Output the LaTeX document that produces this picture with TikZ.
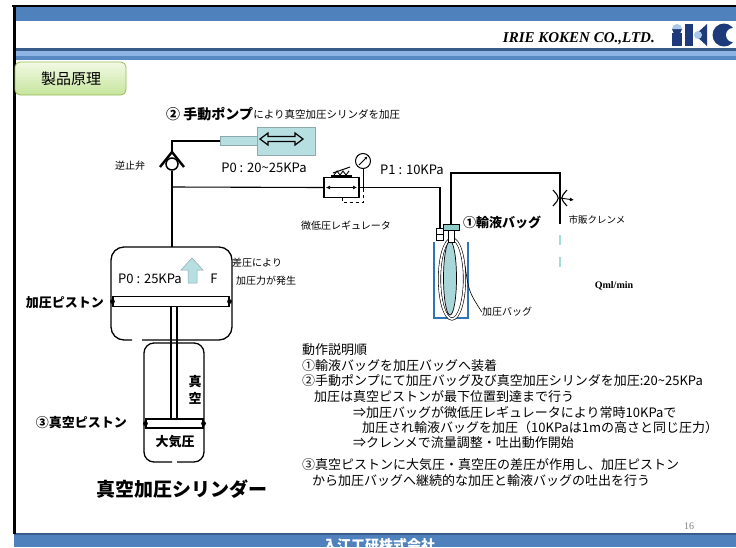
\documentclass[tikz,border=0pt]{standalone}
\usepackage{fontspec}
\setmainfont{Noto Sans CJK JP}
\newfontfamily\latinserif{Liberation Serif}
\usetikzlibrary{arrows.meta,calc}

\definecolor{bandblue}{HTML}{4F81BD}
\definecolor{banddark}{HTML}{385D8A}
\definecolor{bandlight}{HTML}{8DB4E2}
\definecolor{tabgreenA}{HTML}{F2F9E4}
\definecolor{tabgreenB}{HTML}{C6E59C}
\definecolor{tabedge}{HTML}{9BBB59}
\definecolor{pumpfill}{HTML}{B7DEE1}
\definecolor{pumpedge}{HTML}{8DA9AC}
\definecolor{bagedge}{HTML}{2E75B6}
\definecolor{bagfill}{HTML}{A9D6D9}
\definecolor{capfill}{HTML}{8CCBC8}
\definecolor{dripteal}{HTML}{A8DCD9}
\definecolor{logonavy}{HTML}{1F3A7A}
\definecolor{logolight}{HTML}{A9C8EA}
\definecolor{pagegray}{HTML}{808080}

\tikzset{
  pipe/.style={line width=1.1pt, black},
  small/.style={inner sep=0pt, font=\fontsize{10}{12}\selectfont},
  mid/.style={inner sep=0pt, font=\fontsize{13}{15}\selectfont},
  midbold/.style={inner sep=0pt, font=\fontsize{13}{15}\selectfont\bfseries},
  para/.style={inner sep=0pt, anchor=west, font=\fontsize{13}{15}\selectfont},
  pumpbox/.style={draw=pumpedge, fill=pumpfill, line width=0.6pt, inner sep=0pt},
  wall/.style={line width=1.3pt, black},
  piston/.style={draw, line width=1.1pt, fill=white, inner sep=0pt},
  tinybox/.style={draw, line width=0.7pt, fill=white, inner sep=0pt, minimum width=7pt, minimum height=6pt},
}

\begin{document}
\begin{tikzpicture}[x=1pt,y=-1pt]
\useasboundingbox (0,0) rectangle (736,547);
\fill[white] (0,0) rectangle (736,547);

% ---- page frame and header ----
\fill[bandblue] (14,6) rectangle (736,21);
\draw[black, line width=1.6pt] (12,6) -- (736,6);
\fill[banddark] (14,48) rectangle (736,50.5);
\fill[bandlight] (14,50.5) rectangle (736,56);
\fill[bandblue!85!bandlight] (14,56) rectangle (736,60);
\node[inner sep=0pt, anchor=base east, font=\latinserif\bfseries\itshape\fontsize{15}{17}\selectfont] (company) at (655,42) {IRIE KOKEN CO.,LTD.};

% logo
\fill[logonavy] (672,33) rectangle (682,46);
\fill[logonavy] (672,29) arc[start angle=180, end angle=0, radius=5];
\fill[logolight] (672,29) arc[start angle=180, end angle=360, radius=5];
\fill[logonavy] (685,24) rectangle (693,46);
\fill[logonavy] (695,35) -- (707,24) -- (707,46) -- cycle;
\fill[logolight] (698,35) circle (4);
\fill[logonavy] (724,35) circle (11.5);
\fill[white] (733,35) circle (7);

% footer
\fill[bandblue] (14,534) rectangle (736,547);
\fill[banddark] (14,533) rectangle (736,535);
\node[inner sep=0pt, text=white, font=\fontsize{14}{16}\selectfont\bfseries] (footer) at (379,545) {入江工研株式会社};
\node[inner sep=0pt, text=pagegray, font=\latinserif\fontsize{10}{12}\selectfont] (pageno) at (689,526) {16};
\draw[black, line width=2.2pt] (14.5,5) -- (14.5,534);

% tab
\draw[tabedge, line width=0.8pt, rounded corners=5pt, top color=tabgreenA, bottom color=tabgreenB] (15,62) rectangle (126,95);
\node[inner sep=0pt, font=\fontsize{15}{17}\selectfont] (tab) at (71,78.5) {製品原理};

% ---- hand pump ----
\node[inner sep=0pt, anchor=west, font=\fontsize{14}{16}\selectfont\bfseries] (pumptitle) at (166,114) {② 手動ポンプ};
\node[inner sep=0pt, anchor=west, font=\fontsize{10.5}{12}\selectfont] (pumptitleB) at (pumptitle.east) {により真空加圧シリンダを加圧};
\node[pumpbox, minimum width=58pt, minimum height=28pt] (pump) at (286,141) {};
\node[pumpbox, minimum width=37pt, minimum height=9pt] (rod) at (239,141) {};
\draw[line width=1.2pt, fill=pumpfill] (260,139) -- (268,133) -- (268,136.5) -- (295,136.5) -- (295,133) -- (303,139)
  -- (295,145) -- (295,141.5) -- (268,141.5) -- (268,145) -- cycle;

% ---- check valve ----
\coordinate (cvapex) at (172,152);
\node[circle, draw, line width=1.5pt, fill=white, minimum size=12pt, inner sep=0pt] (cv) at (172,164) {};
\draw[line width=2.4pt, line join=round] (160,167) -- (cvapex) -- (184,167);
\node[small] (cvlabel) at (130,166) {逆止弁};
\draw[pipe] (rod.west) -| (cvapex);

% ---- pressure cylinder ----
\coordinate (cyltop) at (172,247);
\coordinate (tee) at (172,187);
\draw[pipe] (cv.south) -- (cyltop);
\draw[wall, rounded corners=13pt] (132,340) -| (111,247) -| (232,340) -- (142,340);
\node[piston, minimum width=116pt, minimum height=10pt] (ppiston) at (171,301.5) {};
\fill (ppiston.west) circle (2.4pt);
\fill (ppiston.east) circle (2.4pt);
\node[mid] (p0b) at (150,279) {P0 : 25KPa};
\draw[pumpedge, line width=0.5pt, fill=pumpfill] (188,283) -- (188,270) -- (181,270) -- (192,258) -- (203,270) -- (197,270) -- (197,283) -- cycle;
\node[mid] (force) at (214,279) {F};
\node[small, anchor=west] (diff1) at (232,263) {差圧により};
\node[small, anchor=west] (diff2) at (236,281) {加圧力が発生};
\node[midbold, anchor=east] (ppl) at (104,303) {加圧ピストン};

% ---- piston rod and vacuum cylinder ----
\draw[line width=1.1pt] (171,307) -- (171,419);
\draw[line width=1.1pt] (177,307) -- (177,419);
\draw[wall, rounded corners=10pt] (172,462) -| (144,343) -| (204,462) -- (177,462);
\node[piston, minimum width=57pt, minimum height=9pt] (vpiston) at (174.5,423.5) {};
\fill (vpiston.west) circle (2.4pt);
\fill (vpiston.east) circle (2.4pt);
\node[midbold] (vac1) at (195,382) {真};
\node[midbold] (vac2) at (195,398) {空};
\node[midbold] (atm) at (175,442) {大気圧};
\node[midbold, anchor=east] (vpl) at (127,423) {③真空ピストン};
\node[inner sep=0pt, font=\fontsize{19}{21}\selectfont\bfseries] (cyltitle) at (182,489) {真空加圧シリンダー};

% ---- regulator line ----
\node[draw, line width=1.1pt, minimum width=35pt, minimum height=20pt, inner sep=0pt] (reg) at (341.5,187.5) {};
\draw[pipe] (tee) -- (reg.west);
\node[mid] (p0a) at (264,168) {P0 : 20\textasciitilde 25KPa};
\draw[line width=0.7pt, -{Latex[length=4pt,width=4pt]}] (341,187.5) -- (357,187.5);
\draw[line width=0.7pt, -{Latex[length=4pt,width=4pt]}] (341,187.5) -- (326,187.5);
% adjusting spring on top of the regulator
\draw[line width=1.1pt] (331,176) -- (352,176);
\draw[line width=0.9pt] (334,175) -- (337,171) -- (340,175) -- (343,171) -- (346,175) -- (349,171);
\draw[line width=1pt] (333,173) -- (350,167);
% drain (dashed)
\draw[line width=0.9pt, dashed] (342,197.5) -- (342,202) -- (363,202) -- (363,194);
% gauge
\node[circle, draw, line width=1pt, fill=white, minimum size=15pt, inner sep=0pt] (gauge) at (363,161) {};
\draw[line width=0.8pt, -{Latex[length=3pt,width=3pt]}] ($(gauge.center)+(-4,4)$) -- ($(gauge.center)+(4.5,-4.5)$);
\draw[line width=1pt] (gauge.south) -- (363,192);
\node[mid] (p1) at (412,170) {P1 : 10KPa};
\node[small] (reglabel) at (346,226) {微低圧レギュレータ};

% ---- infusion bag ----
\node[tinybox] (sidebox) at (440,231) {};
\node[tinybox] (sidebox2) at (440,237) {};
\draw[pipe] (reg.east) -| (sidebox.north);
\draw[bagedge, line width=2.2pt] (434,242) -- (434,318) -- (468,318) -- (468,242);
\draw[line width=0.6pt, double=white, double distance=1.8pt] (452,279) ellipse [x radius=12.5, y radius=40];
\draw[line width=0.7pt, fill=bagfill] (450,278) ellipse [x radius=6.5, y radius=37];
\draw[line width=0.7pt, fill=white] (448,230) rectangle (454,242);
\node[draw, line width=0.7pt, fill=capfill, minimum width=16pt, minimum height=6pt, inner sep=0pt] (cap) at (451,227) {};
\node[inner sep=0pt, anchor=west, font=\fontsize{13}{15}\selectfont\bfseries] (baglabel) at (463,222) {①輸液バッグ};
\node[small] (pbaglabel) at (507,312) {加圧バッグ};
\draw[line width=0.6pt] (465,266) .. controls (469,292) .. (pbaglabel.west);

% ---- delivery line and roller clamp ----
\coordinate (toprun) at (0,173);
\coordinate (clampc) at (560,198);
\coordinate (clampend) at (560,224);
\draw[pipe] (cap.north) -- (cap.north |- toprun) -| (clampend);
\draw[line width=1.1pt] (553,190) .. controls (560,198) .. (553,206);
\draw[line width=1.1pt] (567,190) .. controls (560,198) .. (567,206);
\draw[line width=0.9pt, -{Latex[length=4pt,width=4pt]}] (560,198) -- (574,200);
\node[inner sep=0pt, font=\fontsize{9.5}{11}\selectfont] (clamplabel) at (597,220) {市販クレンメ};
\draw[dripteal, line width=2pt] (560,235) -- (560,245);
\draw[dripteal, line width=2pt] (560,257) -- (560,267);
\node[inner sep=0pt, font=\latinserif\bfseries\fontsize{10}{12}\selectfont] (flow) at (614,286) {Qml/min};

% ---- operating sequence ----
\node[para] (s0) at (302,350) {動作説明順};
\node[para] (s1) at (302,365.5) {①輸液バッグを加圧バッグへ装着};
\node[para] (s2) at (302,381) {②手動ポンプにて加圧バッグ及び真空加圧シリンダを加圧:20\textasciitilde 25KPa};
\node[para] (s3) at (314,396.5) {加圧は真空ピストンが最下位置到達まで行う};
\node[para] (s4) at (353,412) {⇒加圧バッグが微低圧レギュレータにより常時10KPaで};
\node[para] (s5) at (362,427.5) {加圧され輸液バッグを加圧（10KPaは1mの高さと同じ圧力）};
\node[para] (s6) at (353,443) {⇒クレンメで流量調整・吐出動作開始};
\node[para] (s7) at (302,465) {③真空ピストンに大気圧・真空圧の差圧が作用し、加圧ピストン};
\node[para] (s8) at (312,481) {から加圧バッグへ継続的な加圧と輸液バッグの吐出を行う};
\end{tikzpicture}
\end{document}
